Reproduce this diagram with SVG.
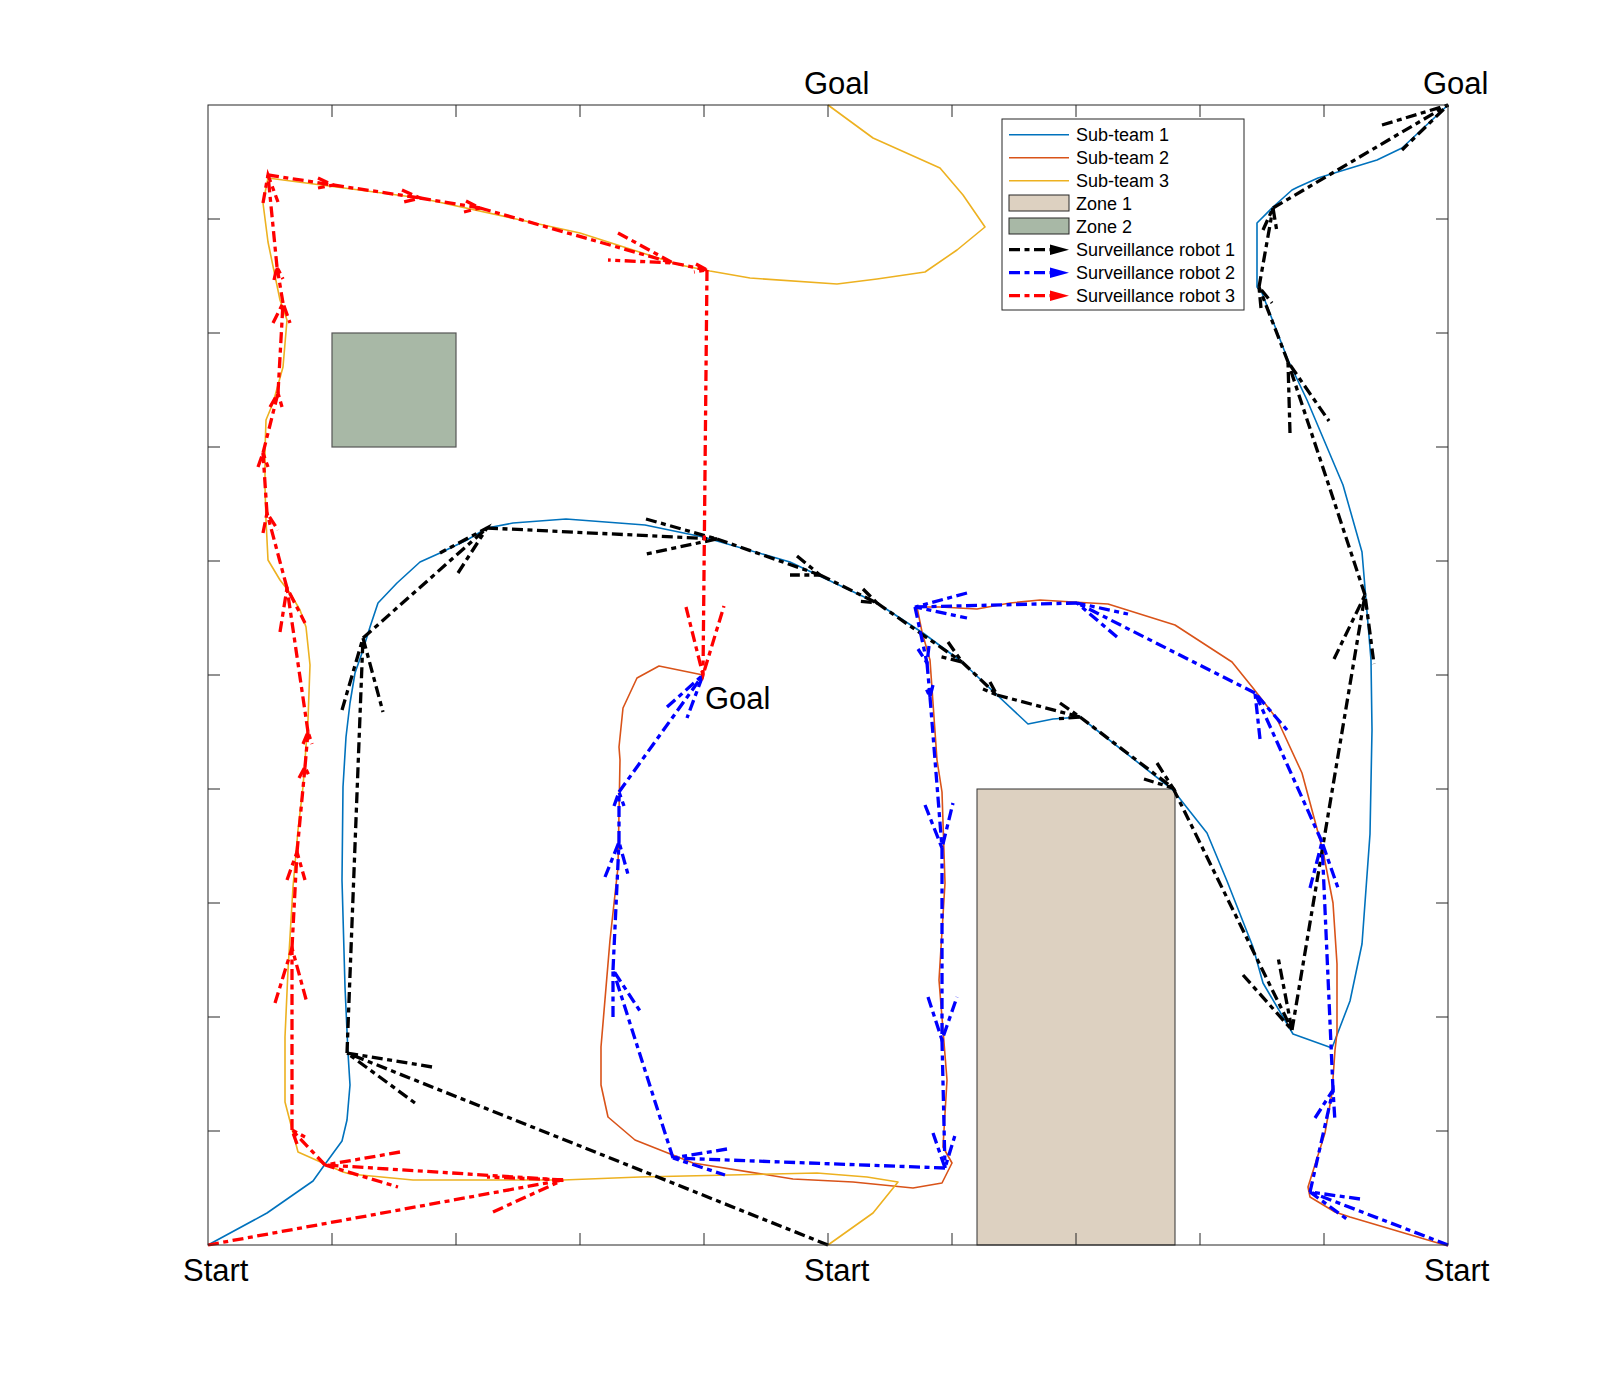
<svg xmlns="http://www.w3.org/2000/svg" width="1600" height="1400" viewBox="0 0 1600 1400">
<style>
.s1{fill:none;stroke:#0072BD;stroke-width:1.6;stroke-linejoin:round}
.s2{fill:none;stroke:#D95319;stroke-width:1.6;stroke-linejoin:round}
.s3{fill:none;stroke:#EDB120;stroke-width:1.6;stroke-linejoin:round}
.rb{fill:none;stroke-width:3.3;stroke-dasharray:11 4.5 5 4.5}
.k{stroke:#000}
.b{stroke:#0000FF}
.r{stroke:#FF0000}
.ax{fill:none;stroke:#262626;stroke-width:1}
.lbl{font-family:"Liberation Sans",Arial,Helvetica,sans-serif;font-size:31px;fill:#000}
.lg{font-family:"Liberation Sans",Arial,Helvetica,sans-serif;font-size:18px;fill:#000}
</style>
<rect x="0" y="0" width="1600" height="1400" fill="#fff"/>
<g id="zones">
<rect id="zone1" x="977" y="789" width="198" height="456" fill="#DDD1C1" stroke="#333" stroke-width="1"/>
<rect id="zone2" x="332" y="333" width="124" height="114" fill="#A8B8A6" stroke="#555" stroke-width="1.2"/>
</g>
<g id="subteams">
<polyline id="subteam1" class="s1" points="208,1245 267,1213 313,1181 323,1167 342,1141 347,1120 350,1085 348,1053 345,987 342,880 343,787 346,737 350,703 355,673 362,653 370,627 378,603 397,583 420,562 440,553 467,540 487,528 513,523 566,519 645,525 703,537 790,562 877,603 923,633 962,662 997,695 1028,724 1053,719 1080,717 1173,790 1207,833 1227,881 1253,947 1263,983 1293,1034 1332,1048 1350,1001 1362,944 1370,834 1372,730 1371,660 1362,552 1343,485 1307,400 1288,360 1262,293 1257,287 1257,223 1273,207 1292,190 1298,187 1318,178 1377,160 1402,148 1448,105"/>
<polyline id="subteam2" class="s2" points="1448,1246 1350,1217 1335,1212 1310,1197 1308,1187 1325,1133 1332,1093 1335,1050 1337,1033 1337,964 1333,903 1323,851 1302,773 1277,719 1253,688 1232,662 1175,625 1108,604 1073,602 1040,600 1010,603 977,609 940,607 917,607 922,632 930,660 937,760 942,792 945,883 939,980 947,1080 943,1147 952,1163 942,1183 913,1188 853,1182 793,1179 693,1163 635,1140 608,1117 601,1085 601,1047 610,940 618,867 620,760 619,747 623,708 637,678 659,666 703,675"/>
<polyline id="subteam3" class="s3" points="828,1245 873,1213 898,1182 867,1177 817,1173 730,1175 640,1177 563,1180 413,1180 350,1174 343,1172 298,1152 285,1102 285,1037 288,970 293,887 298,830 303,787 308,720 310,665 306,627 300,610 290,593 280,580 268,560 266,520 265,487 265,450 266,420 273,403 283,367 287,320 280,300 268,242 263,203 268,178 420,198 580,233 680,265 710,271 750,278 837,284 877,279 925,272 957,250 985,227 963,195 940,168 873,138 828,105"/>
</g>
<g id="connectors">
<g id="robot1" class="rb k">
<line x1="828" y1="1245" x2="347" y2="1053"/><polyline points="432,1067 347,1053 415,1103"/>
<line x1="347" y1="1053" x2="363" y2="638"/><polyline points="342,710 363,638 383,712"/>
<line x1="363" y1="638" x2="487" y2="528"/><polyline points="458,573 487,528 440,553"/>
<line x1="487" y1="528" x2="717" y2="539"/><polyline points="646,519 717,539 646,554"/>
<line x1="717" y1="539" x2="820" y2="575"/><polyline points="797,556 820,575 790,575"/>
<line x1="820" y1="575" x2="877" y2="603"/><polyline points="863,589 877,603 857,601"/>
<line x1="877" y1="603" x2="962" y2="662"/><polyline points="948,642 962,662 938,656"/>
<line x1="962" y1="662" x2="997" y2="695"/><polyline points="990,682 997,695 983,689"/>
<line x1="997" y1="695" x2="1080" y2="717"/><polyline points="1060,703 1080,717 1055,719"/>
<line x1="1080" y1="717" x2="1173" y2="788"/><polyline points="1157,763 1173,788 1144,779"/>
<line x1="1173" y1="788" x2="1292" y2="1030"/><polyline points="1243,975 1292,1030 1278,957"/>
<line x1="1292" y1="1030" x2="1365" y2="595"/><polyline points="1334,659 1365,595 1374,664"/>
<line x1="1365" y1="595" x2="1288" y2="362"/><polyline points="1290,433 1288,362 1329,421"/>
<line x1="1288" y1="362" x2="1259" y2="287"/><polyline points="1261,308 1259,287 1272,303"/>
<line x1="1259" y1="287" x2="1273" y2="208"/><polyline points="1263,230 1273,208 1277,232"/>
<line x1="1273" y1="208" x2="1448" y2="105"/><polyline points="1382,125 1448,105 1402,150"/>
</g>
<g id="robot2" class="rb b">
<line x1="1448" y1="1245" x2="1310" y2="1192"/><polyline points="1360,1199 1310,1192 1348,1220"/>
<line x1="1310" y1="1192" x2="1333" y2="1090"/><polyline points="1315,1118 1333,1090 1335,1122"/>
<line x1="1333" y1="1090" x2="1322" y2="842"/><polyline points="1310,888 1322,842 1338,888"/>
<line x1="1322" y1="842" x2="1255" y2="693"/><polyline points="1260,739 1255,693 1287,730"/>
<line x1="1255" y1="693" x2="1077" y2="603"/><polyline points="1117,637 1077,603 1128,614"/>
<line x1="1077" y1="603" x2="915" y2="607"/><polyline points="967,593 915,607 967,618"/>
<line x1="915" y1="607" x2="927" y2="663"/><polyline points="929,646 927,663 918,649"/>
<line x1="927" y1="663" x2="930" y2="697"/><polyline points="933,685 930,697 925,686"/>
<line x1="930" y1="697" x2="942" y2="848"/><polyline points="925,805 942,848 953,803"/>
<line x1="942" y1="848" x2="942" y2="1040"/><polyline points="928,997 942,1040 957,997"/>
<line x1="942" y1="1040" x2="945" y2="1168"/><polyline points="933,1133 945,1168 956,1132"/>
<line x1="945" y1="1168" x2="673" y2="1158"/><polyline points="727,1149 673,1158 725,1175"/>
<line x1="673" y1="1158" x2="613" y2="970"/><polyline points="613,1017 613,970 640,1011"/>
<line x1="613" y1="970" x2="619" y2="842"/><polyline points="605,877 619,842 629,878"/>
<line x1="619" y1="842" x2="619" y2="792"/><polyline points="614,806 619,792 624,806"/>
<line x1="619" y1="792" x2="703" y2="675"/><polyline points="667,707 703,675 687,718"/>
</g>
<g id="robot3" class="rb r">
<line x1="208" y1="1245" x2="563" y2="1180"/><polyline points="493,1212 563,1180 487,1177"/>
<line x1="563" y1="1180" x2="325" y2="1165"/><polyline points="400,1152 325,1165 398,1187"/>
<line x1="325" y1="1165" x2="292" y2="1130"/><polyline points="297,1144 292,1130 305,1137"/>
<line x1="292" y1="1130" x2="292" y2="948"/><polyline points="275,1003 292,948 307,1003"/>
<line x1="292" y1="948" x2="297" y2="852"/><polyline points="287,880 297,852 305,880"/>
<line x1="297" y1="852" x2="305" y2="767"/><polyline points="299,778 305,767 310,778"/>
<line x1="305" y1="767" x2="308" y2="732"/><polyline points="303,744 308,732 312,744"/>
<line x1="308" y1="732" x2="287" y2="588"/><polyline points="280,632 287,588 305,623"/>
<line x1="287" y1="588" x2="267" y2="513"/><polyline points="263,533 267,513 278,530"/>
<line x1="267" y1="513" x2="263" y2="453"/><polyline points="258,467 263,453 268,467"/>
<line x1="263" y1="453" x2="278" y2="393"/><polyline points="270,407 278,393 282,407"/>
<line x1="278" y1="393" x2="283" y2="303"/><polyline points="273,323 283,303 290,323"/>
<line x1="283" y1="303" x2="277" y2="267"/><polyline points="274,280 277,267 283,279"/>
<line x1="277" y1="267" x2="268" y2="175"/><polyline points="263,203 268,175 278,202"/>
<line x1="268" y1="175" x2="333" y2="185"/><polyline points="318,178 333,185 318,188"/>
<line x1="333" y1="185" x2="420" y2="198"/><polyline points="402,190 420,198 400,203"/>
<line x1="420" y1="198" x2="480" y2="208"/><polyline points="466,201 480,208 464,212"/>
<line x1="480" y1="208" x2="673" y2="263"/><polyline points="618,233 673,263 608,260"/>
<line x1="673" y1="263" x2="707" y2="270"/><polyline points="696,264 707,270 694,272"/>
<line x1="707" y1="270" x2="703" y2="675"/><polyline points="686,607 703,675 724,606"/>
</g>
</g>
<g id="axes">
<rect class="ax" x="208" y="105" width="1240" height="1140"/>
<path class="ax" d="M332,105v12M456,105v12M580,105v12M704,105v12M828,105v12M952,105v12M1076,105v12M1200,105v12M1324,105v12M332,1245v-12M456,1245v-12M580,1245v-12M704,1245v-12M828,1245v-12M952,1245v-12M1076,1245v-12M1200,1245v-12M1324,1245v-12M208,219h12M208,333h12M208,447h12M208,561h12M208,675h12M208,789h12M208,903h12M208,1017h12M208,1131h12M1448,219h-12M1448,333h-12M1448,447h-12M1448,561h-12M1448,675h-12M1448,789h-12M1448,903h-12M1448,1017h-12M1448,1131h-12"/>
</g>
<g id="labels">
<text class="lbl" x="804" y="94">Goal</text>
<text class="lbl" x="1423" y="94">Goal</text>
<text class="lbl" x="705" y="709">Goal</text>
<text class="lbl" x="183" y="1281">Start</text>
<text class="lbl" x="804" y="1281">Start</text>
<text class="lbl" x="1424" y="1281">Start</text>
</g>
<g id="legend">
<rect x="1002" y="119" width="242" height="191" fill="#fff" stroke="#262626" stroke-width="1"/>
<line x1="1009" y1="134.7" x2="1069" y2="134.7" stroke="#0072BD" stroke-width="1.6"/>
<line x1="1009" y1="157.7" x2="1069" y2="157.7" stroke="#D95319" stroke-width="1.6"/>
<line x1="1009" y1="180.7" x2="1069" y2="180.7" stroke="#EDB120" stroke-width="1.6"/>
<rect x="1009" y="195" width="60" height="16" fill="#DDD1C1" stroke="#262626" stroke-width="1"/>
<rect x="1009" y="218" width="60" height="16" fill="#A8B8A6" stroke="#262626" stroke-width="1"/>
<line class="rb k" x1="1009" y1="249.7" x2="1056" y2="249.7"/>
<polygon points="1050,244.5 1069,249.7 1050,255" fill="#000"/>
<line class="rb b" x1="1009" y1="272.7" x2="1056" y2="272.7"/>
<polygon points="1050,267.5 1069,272.7 1050,278" fill="#0000FF"/>
<line class="rb r" x1="1009" y1="295.7" x2="1056" y2="295.7"/>
<polygon points="1050,290.5 1069,295.7 1050,301" fill="#FF0000"/>
<text class="lg" x="1076" y="141">Sub-team 1</text>
<text class="lg" x="1076" y="164">Sub-team 2</text>
<text class="lg" x="1076" y="187">Sub-team 3</text>
<text class="lg" x="1076" y="210">Zone 1</text>
<text class="lg" x="1076" y="233">Zone 2</text>
<text class="lg" x="1076" y="256">Surveillance robot 1</text>
<text class="lg" x="1076" y="279">Surveillance robot 2</text>
<text class="lg" x="1076" y="302">Surveillance robot 3</text>
</g>
</svg>
